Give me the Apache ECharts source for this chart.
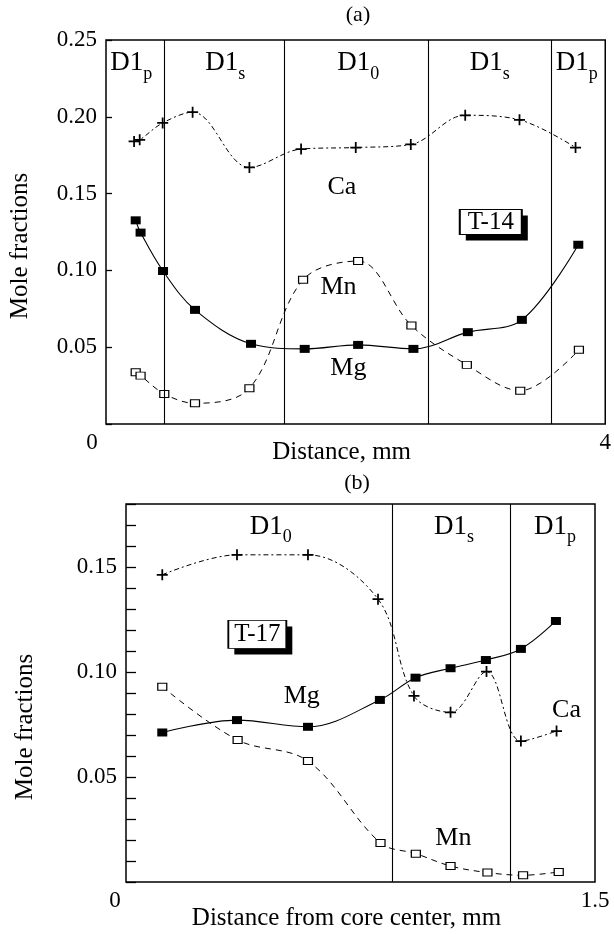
<!DOCTYPE html>
<html><head><meta charset="utf-8">
<script src="https://cdn.jsdelivr.net/npm/echarts@6/dist/echarts.min.js"></script>
<style>html,body{margin:0;padding:0;background:#fff}#c{width:614px;height:934px}</style>
</head><body><div id="c"></div>
<script>
// ---------- Panel (a): T-14, distance (mm) ----------
const caA = [[0.225,0.184],[0.27,0.185],[0.454,0.196],[0.694,0.203],[1.149,0.167],[1.563,0.179],[2.001,0.180],[2.442,0.182],[2.878,0.201],[3.313,0.198],[3.762,0.180]];
const mgA = [[0.238,0.1326],[0.277,0.1246],[0.457,0.0996],[0.713,0.0743],[1.162,0.0522],[1.592,0.0489],[2.02,0.0515],[2.463,0.0489],[2.899,0.0598],[3.332,0.0678],[3.784,0.1167]];
const mnA = [[0.238,0.0337],[0.277,0.0315],[0.467,0.0196],[0.713,0.0135],[1.149,0.0233],[1.579,0.0939],[2.02,0.1061],[2.447,0.0641],[2.891,0.0385],[3.319,0.0217],[3.789,0.0483]];
const boundariesA = [0.465, 1.428, 2.58, 3.57];
const regionsA = [['p',0.203,0.2348],['s',0.956,0.2348],['0',2.021,0.2348],['s',3.075,0.2348],['p',3.771,0.2348]];
const labelsA = [['Ca',1.89,0.1545],['Mn',1.863,0.0894],['Mg',1.942,0.0362]];
const sampleA = [['T-14',3.083,0.1315]];
const yTicksA = ['0.05','0.10','0.15','0.20','0.25'];
const xTicksA = ['0','4'];

// ---------- Panel (b): T-17, distance from core center (mm) ----------
const caB = [[0.116,0.1463],[0.355,0.1558],[0.582,0.1558],[0.806,0.1347],[0.921,0.0886],[1.038,0.0808],[1.153,0.1002],[1.263,0.0671],[1.377,0.0719]];
const mgB = [[0.116,0.0712],[0.355,0.0771],[0.582,0.0739],[0.812,0.0867],[0.926,0.0973],[1.038,0.1018],[1.151,0.1057],[1.263,0.1110],[1.375,0.1243]];
const mnB = [[0.116,0.0930],[0.357,0.0676],[0.582,0.0576],[0.814,0.0186],[0.927,0.0135],[1.038,0.0076],[1.156,0.0045],[1.270,0.0032],[1.384,0.0048]];
const boundariesB = [0.848, 1.229];
const regionsB = [['0',0.463,0.1692],['s',1.049,0.1692],['p',1.372,0.1692]];
const labelsB = [['Mg',0.562,0.0883],['Ca',1.409,0.0819],['Mn',1.047,0.0208]];
const sampleB = [['T-17',0.42,0.1179]];
const yTicksB = ['0.05','0.10','0.15'];
const xTicksB = ['0','1.5'];

const F = 'Liberation Serif';
const K = '#000';
const PLUS = 'path://M4.2,0H5.8V4.2H10V5.8H5.8V10H4.2V5.8H0V4.2H4.2Z';
const NOB = {textBorderWidth: 0, textBorderColor: 'transparent', textShadowBlur: 0, textShadowColor: 'transparent', opacity: 1};

function fmt2(v){ return (Math.round(v*100)/100).toFixed(2); }

function xAxisFor(gi, max, ticks, name, zeroPad, gap){
  return {
    gridIndex: gi, type: 'value', min: 0, max: max, interval: max,
    axisLine: {show: false}, axisTick: {show: false}, splitLine: {show: false},
    axisLabel: {
      margin: 7, color: K, fontFamily: F, fontSize: 23,
      formatter: v => v === 0 ? '{z|' + ticks[0] + '}' : ticks[1],
      rich: {z: {fontFamily: F, fontSize: 23, color: K, padding: [0, zeroPad, 0, 0]}}
    },
    name: name, nameLocation: 'middle', nameGap: gap, nameMoveOverlap: false,
    nameTextStyle: {color: K, fontFamily: F, fontSize: 25, padding: [0, 28, 0, 0]}
  };
}
function yAxisFor(gi, max, interval, ticks, tickLen, gap, pad){
  return {
    gridIndex: gi, type: 'value', min: 0, max: max, interval: interval,
    axisLine: {show: false},
    axisTick: {show: true, inside: true, length: tickLen, lineStyle: {color: K, width: 1.3}},
    splitLine: {show: false},
    axisLabel: {
      margin: 9, color: K, fontFamily: F, fontSize: 23,
      formatter: v => { const s = fmt2(v); return ticks.indexOf(s) >= 0 ? s : ''; }
    },
    name: 'Mole fractions', nameLocation: 'middle', nameGap: gap, nameMoveOverlap: false,
    nameTextStyle: {color: K, fontFamily: F, fontSize: 25, padding: [0, pad, 0, 0]}
  };
}

function seriesFor(gi, ca, mg, mn, bounds, regions, labels, sample, sq, tag){
  const ax = {xAxisIndex: gi, yAxisIndex: gi};
  const sm = 0.35;
  const toPts = arr => arr.map(r => ({name: r[0], value: [r[1], r[2]]}));
  return [
    Object.assign({type: 'line', name: 'Ca', data: ca, smooth: sm, symbol: PLUS, symbolSize: 11,
      showAllSymbol: true,
      itemStyle: {color: K, opacity: 1}, lineStyle: {color: K, width: 1, type: [5, 3, 2, 3]}, z: 3,
      markLine: {silent: true, symbol: ['none','none'], label: {show: false},
        lineStyle: {color: K, type: 'solid', width: 1.1},
        data: bounds.map(b => ({xAxis: b}))}}, ax),
    Object.assign({type: 'line', name: 'Mg', data: mg, smooth: sm, symbol: 'rect', symbolSize: sq,
      showAllSymbol: true,
      itemStyle: {color: K, opacity: 1}, lineStyle: {color: K, width: 1.1}, z: 4}, ax),
    Object.assign({type: 'line', name: 'Mn', data: mn, smooth: sm, symbol: 'rect', symbolSize: [sq[0]-1, sq[1]-1],
      showAllSymbol: true,
      itemStyle: {color: '#fff', borderColor: K, borderWidth: 1.1, opacity: 1}, lineStyle: {color: K, width: 1, type: [6, 5]}, z: 4}, ax),
    Object.assign({type: 'scatter', symbolSize: 0, silent: true, z: 6,
      itemStyle: {color: K, opacity: 1},
      data: toPts(regions),
      label: Object.assign({show: true, position: 'inside', color: K,
        formatter: p => '{m|D1}{s|' + p.name + '}',
        rich: {m: Object.assign({fontFamily: F, fontSize: 27, color: K, lineHeight: 40, verticalAlign: 'middle'}, NOB),
               s: Object.assign({fontFamily: F, fontSize: 18, color: K, lineHeight: 18, verticalAlign: 'bottom'}, NOB)}}, NOB)}, ax),
    Object.assign({type: 'scatter', symbolSize: 0, silent: true, z: 6,
      itemStyle: {color: K, opacity: 1},
      data: toPts(labels),
      label: Object.assign({show: true, position: 'inside', color: K, fontFamily: F, fontSize: 26, formatter: p => p.name}, NOB)}, ax),
    // sample tag shadow block
    Object.assign({type: 'scatter', symbol: 'rect', symbolSize: tag, symbolOffset: [6, 6], silent: true, z: 7,
      itemStyle: {color: K, opacity: 1},
      data: toPts(sample)}, ax),
    // sample tag box + text
    Object.assign({type: 'scatter', symbol: 'rect', symbolSize: tag, silent: true, z: 8,
      itemStyle: {color: '#fff', borderColor: K, borderWidth: 1.3, opacity: 1},
      data: toPts(sample),
      label: Object.assign({show: true, position: 'inside', color: K, fontFamily: F, fontSize: 25, formatter: p => p.name}, NOB)}, ax)
  ];
}

const chart = echarts.init(document.getElementById('c'), null, {renderer: 'canvas'});
chart.setOption({
  animation: false,
  backgroundColor: '#fff',
  textStyle: {fontFamily: F},
  grid: [
    {left: 106, top: 40, width: 506, height: 384, show: true, borderColor: K, borderWidth: 1.5, backgroundColor: 'transparent'},
    {left: 126, top: 504, width: 469, height: 378, show: true, borderColor: K, borderWidth: 1.5, backgroundColor: 'transparent'}
  ],
  xAxis: [
    xAxisFor(0, 4, xTicksA, 'Distance, mm', 28, 16),
    xAxisFor(1, 1.5, xTicksB, 'Distance from core center, mm', 22, 24)
  ],
  yAxis: [
    yAxisFor(0, 0.25, 0.05, yTicksA, 6, 73, 28),
    yAxisFor(1, 0.18, 0.01, yTicksB, 10, 88, 68)
  ],
  graphic: [
    {type: 'text', x: 358, y: 15, style: {text: '(a)', fontFamily: F, fontSize: 22, fill: K, align: 'center', verticalAlign: 'middle'}},
    {type: 'text', x: 357, y: 483, style: {text: '(b)', fontFamily: F, fontSize: 22, fill: K, align: 'center', verticalAlign: 'middle'}}
  ],
  series: [].concat(
    seriesFor(0, caA, mgA, mnA, boundariesA, regionsA, labelsA, sampleA, [10, 8], [62, 25]),
    seriesFor(1, caB, mgB, mnB, boundariesB, regionsB, labelsB, sampleB, [10, 8], [58, 28])
  )
});
</script>
</body></html>
